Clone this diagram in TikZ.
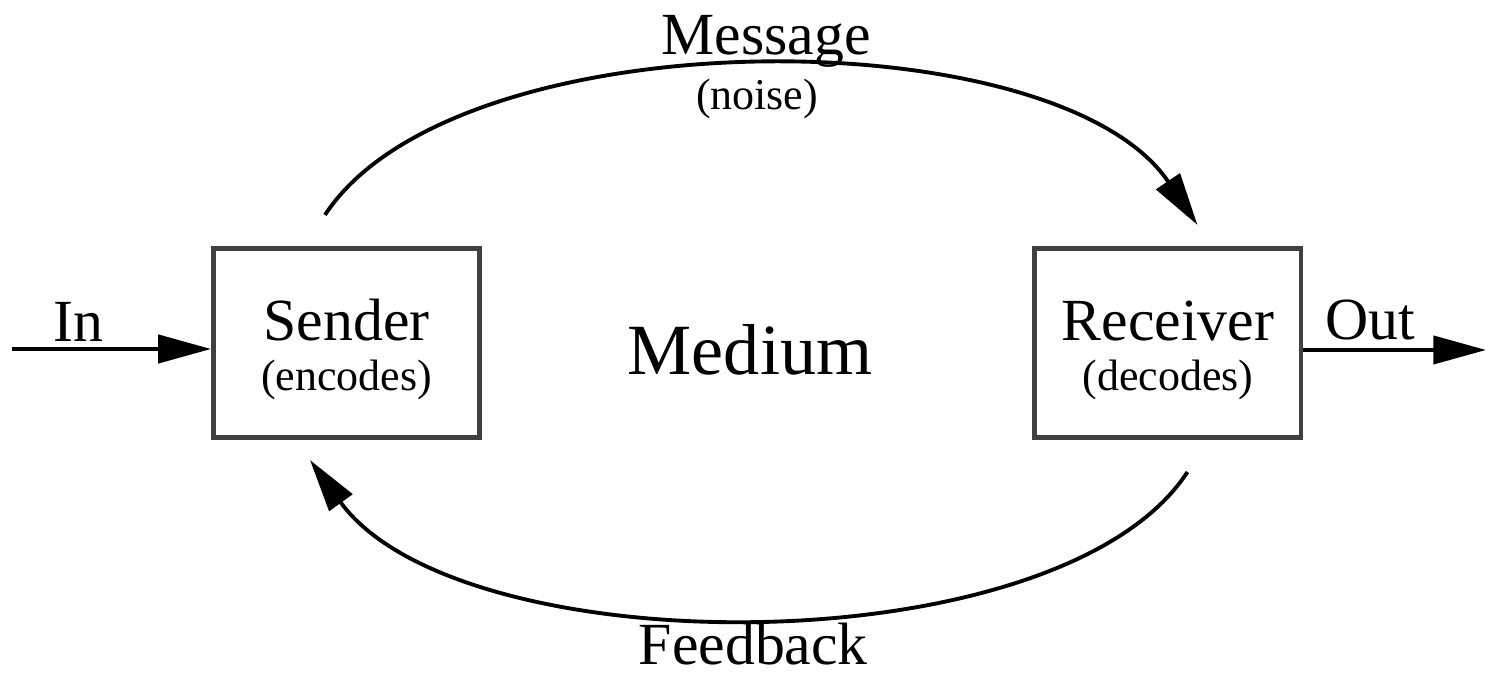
\documentclass[tikz,border=0pt]{standalone}
\usepackage{fontspec}
\setmainfont{Liberation Serif}
\usetikzlibrary{arrows.meta,positioning}
\newcommand{\subtxt}[1]{{\fontsize{12.5pt}{14pt}\selectfont #1}}

\begin{document}
\begin{tikzpicture}
	[x=0.01cm, y=-0.01cm, >={Triangle[length=15pt,width=8pt]}, line width=1.1pt,
	block/.style={draw=black!75, line width=1.4pt, minimum width=2.66cm, minimum height=1.89cm,
		align=center, inner sep=0pt, font=\fontsize{17pt}{14pt}\selectfont},
	tag/.style={inner sep=0pt, anchor=base, font=\fontsize{17pt}{20pt}\selectfont},
	subtag/.style={inner sep=0pt, anchor=base, font=\fontsize{12.5pt}{14pt}\selectfont}]
	\useasboundingbox (0,0) rectangle (1488,674);
	\node[block] (sender) at (346.5,343) {\rule{0pt}{15.5pt}Sender\\\subtxt{(encodes)}};
	\node[block] (receiver) [right=5.5cm of sender] {\rule{0pt}{15.5pt}Receiver\\\subtxt{(decodes)}};
	\node[tag, font=\fontsize{20.5pt}{24pt}\selectfont] (medium) at (750,375) {Medium};
	% in and out
	\coordinate (instart) at (12,349);
	\coordinate (outend) at (1486,350);
	\draw[->] (instart) -- (instart -| sender.west);
	\draw[->] (receiver.east |- outend) -- (outend);
	\node[tag] (in) at (78,342) {In};
	\node[tag] (out) at (1370,340) {Out};
	% message and feedback
	\coordinate (msgstart) at ([xshift=-0.215cm, yshift=0.31cm]sender.north);
	\coordinate (msgend) at ([xshift=0.295cm, yshift=0.21cm]receiver.north);
	\coordinate (fbstart) at ([xshift=0.195cm, yshift=-0.32cm]receiver.south);
	\coordinate (fbend) at ([xshift=-0.365cm, yshift=-0.2cm]sender.south);
	\draw[->] (msgstart) .. controls +(130,-199) and +(-141,-209) .. (msgend)
		node[tag, midway, xshift=0.09cm, yshift=0.12cm] (message) {Message}
		node[subtag, midway, yshift=-0.43cm] (noise) {(noise)};
	\draw[->] (fbstart) .. controls +(-127,195) and +(150,207) .. (fbend)
		node[tag, midway, xshift=-0.04cm, yshift=-0.48cm] (feedback) {Feedback};
\end{tikzpicture}
\end{document}
